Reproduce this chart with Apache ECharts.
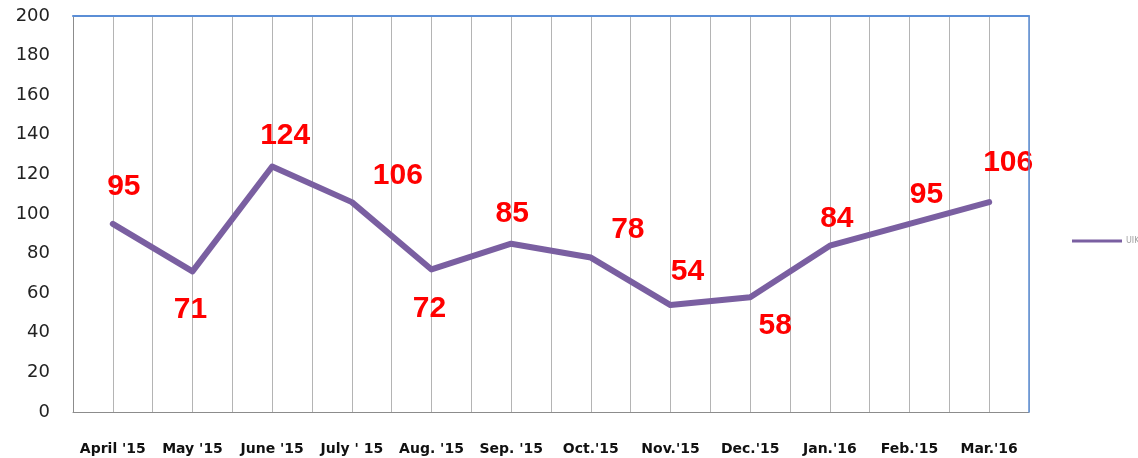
<!DOCTYPE html>
<html>
<head>
<meta charset="utf-8">
<script src="https://cdn.jsdelivr.net/npm/echarts@6/dist/echarts.min.js"></script>
<style>
html,body{margin:0;padding:0;background:#fff;}
#chart{width:1138px;height:458px;}
</style>
</head>
<body>
<div id="chart"></div>
<script>
var categories = ["April '15", "May '15", "June '15", "July ' 15", "Aug. '15", "Sep. '15", "Oct.'15", "Nov.'15", "Dec.'15", "Jan.'16", "Feb.'15", "Mar.'16"];
var seriesName = 'UIK';
var values = [95, 71, 124, 106, 72, 85, 78, 54, 58, 84, 95, 106];
var yTicks = {min: 0, max: 200, interval: 20};

// label placement (pixel offsets from each point)
var labelOffsets = [[11,-37],[-2,38],[13,-31],[46,-26],[-2,39],[1,-30],[37,-28],[17,-33],[25,29],[7,-27],[17,-29],[19,-39]];

var halfSlots = [];
for (var i = 0; i < categories.length * 2; i++) halfSlots.push('');

var chart = echarts.init(document.getElementById('chart'), null, {renderer: 'canvas'});
chart.setOption({
  animation: false,
  backgroundColor: '#ffffff',
  grid: {left: 73, right: 109, top: 16, bottom: 46, containLabel: false},
  legend: {
    show: true,
    data: [seriesName],
    left: 1067,
    top: 232,
    icon: 'rect',
    itemWidth: 50,
    itemHeight: 3,
    itemGap: 4,
    textStyle: {fontSize: 8, color: '#a0a0a0', fontFamily: 'DejaVu Sans', padding: [0,0,0,-1]}
  },
  xAxis: [
    {
      type: 'category',
      data: categories,
      position: 'bottom',
      boundaryGap: true,
      axisLine: {onZero: false, lineStyle: {color: '#8c8c8c', width: 1}},
      axisTick: {show: false},
      splitLine: {show: false},
      axisLabel: {interval: 0, margin: 30, color: '#111', fontSize: 14, fontWeight: 'bold', fontFamily: 'DejaVu Sans'}
    },
    {
      type: 'category',
      data: halfSlots,
      position: 'top',
      boundaryGap: true,
      axisLine: {show: true, onZero: false, lineStyle: {color: '#5b8ed6', width: 2}},
      axisTick: {show: false},
      axisLabel: {show: false},
      splitLine: {show: true, interval: 0, lineStyle: {color: '#b4b4b4', width: 1}}
    }
  ],
  yAxis: [
    {
      type: 'value',
      min: yTicks.min, max: yTicks.max, interval: yTicks.interval,
      position: 'left',
      axisLine: {show: true, onZero: false, lineStyle: {color: '#8c8c8c', width: 1}},
      axisTick: {show: false},
      splitLine: {show: false},
      axisLabel: {margin: 23, color: '#222', fontSize: 18, fontFamily: 'DejaVu Sans'}
    },
    {
      type: 'value',
      min: yTicks.min, max: yTicks.max, interval: yTicks.interval,
      position: 'right',
      z: 5,
      axisLine: {show: true, onZero: false, lineStyle: {color: '#5b8ed6', width: 1.5}},
      axisTick: {show: false},
      axisLabel: {show: false},
      splitLine: {show: false}
    }
  ],
  series: [{
    name: seriesName,
    type: 'line',
    xAxisIndex: 0,
    yAxisIndex: 0,
    data: values.map(function (v, i) {
      return {value: v, label: {offset: labelOffsets[i]}};
    }),
    symbol: 'circle',
    symbolSize: 2,
    showSymbol: true,
    color: '#7a5fa1',
    itemStyle: {color: '#7a5fa1'},
    lineStyle: {color: '#7a5fa1', width: 6, join: 'round', cap: 'round'},
    label: {
      show: true,
      position: 'inside',
      color: '#ff0000',
      fontSize: 30,
      fontWeight: 'bold',
      fontFamily: 'Liberation Sans'
    },
    z: 3
  }]
});
</script>
</body>
</html>
